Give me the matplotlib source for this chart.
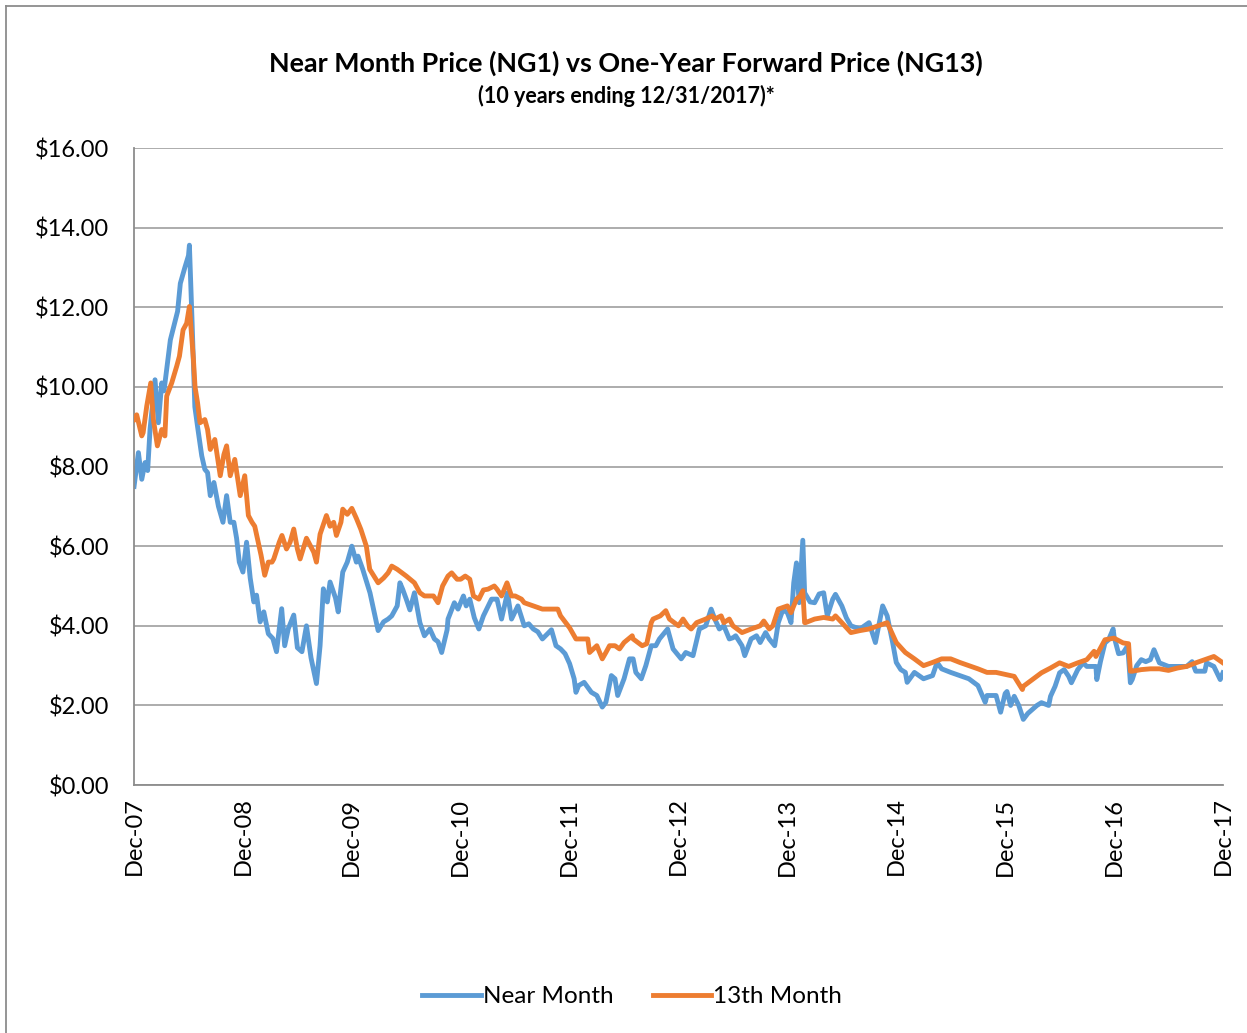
import numpy as np
import matplotlib
matplotlib.use('Agg')
import matplotlib.pyplot as plt
from matplotlib.lines import Line2D

plt.rcParams['font.family'] = ['Lato', 'DejaVu Sans']

# months after Dec-07 (0 = Dec-07, 120 = Dec-17)
nm_month = [0, 0.48, 0.85, 1.21, 1.5, 1.76, 2.31, 2.68, 3.05, 3.3, 4.0, 4.8, 5.1, 5.6, 6.0, 6.1,
            6.4, 6.7, 7.0, 7.46, 7.8, 8.1, 8.4, 8.8, 9.3, 9.8, 10.2, 10.6, 11.0, 11.3, 11.6,
            12.0, 12.4, 12.8, 13.2, 13.5, 13.9, 14.3, 14.8, 15.3, 15.7, 16.27, 16.6, 17.0,
            17.6, 18.0, 18.5, 19.0, 19.5, 20.1, 20.5, 20.86, 21.3, 21.6, 22.2, 22.5, 23.0,
            23.5, 24.0, 24.5, 24.68, 25.2, 26.0, 26.9, 27.5, 28.0, 28.4, 29.0, 29.3, 29.6,
            30.0, 30.4, 30.9, 31.5, 32.0, 32.6, 33.1, 33.5, 33.9, 34.5, 34.6, 35.3, 35.7,
            36.3, 36.6, 37.0, 37.5, 38.0, 38.5, 39.4, 40.0, 40.5, 41.15, 41.6, 42.3, 43.0,
            43.5, 44.0, 44.5, 45.0, 46.0, 46.5, 47.0, 47.5, 48.0, 48.5, 48.7, 49.0, 49.6,
            50.4, 51.0, 51.6, 52.0, 52.6, 53.0, 53.3, 54.0, 54.6, 55.0, 55.3, 55.9, 56.4,
            57.0, 57.5, 57.9, 58.8, 59.0, 59.4, 60.3, 60.8, 61.6, 62.3, 63.0, 63.6, 64.0,
            64.5, 65.0, 65.6, 66.0, 66.3, 67.0, 67.3, 68.0, 68.6, 69.0, 69.6, 70.0, 70.6,
            71.0, 71.5, 72.0, 72.4, 72.7, 73.0, 73.3, 73.7, 73.9, 74.5, 75.0, 75.5, 76.0,
            76.4, 77.0, 77.3, 78.0, 78.5, 79.0, 80.0, 81.0, 81.7, 82.5, 83.0, 83.6, 84.0,
            84.5, 85.0, 85.2, 86.0, 87.0, 88.0, 88.5, 89.0, 90.0, 91.0, 92.0, 93.0, 93.8,
            94.0, 95.0, 95.5, 96.0, 96.2, 96.6, 97.0, 97.5, 98.0, 98.5, 99.0, 99.5, 100.0,
            100.8, 101.0, 101.5, 102.0, 102.5, 103.0, 103.3, 104.0, 104.6, 105.0, 106.0,
            106.1, 106.5, 107.0, 107.4, 107.9, 108.0, 108.5, 109.0, 109.5, 109.8, 110.0,
            110.5, 111.0, 111.5, 112.0, 112.4, 113.0, 114.0, 115.0, 116.0, 116.6, 117.0,
            118.0, 118.2, 119.0, 119.7, 120.0]
nm_price = [7.5, 8.35, 7.68, 8.1, 7.9, 8.93, 10.18, 9.1, 10.1, 9.9, 11.18, 11.9, 12.6, 13.0, 13.3, 13.56,
            11.6, 9.5, 9.0, 8.27, 7.93, 7.85, 7.27, 7.6, 7.0, 6.6, 7.27, 6.6, 6.6, 6.2, 5.6,
            5.35, 6.1, 5.2, 4.6, 4.77, 4.1, 4.35, 3.8, 3.68, 3.35, 4.43, 3.5, 3.93,
            4.27, 3.45, 3.35, 4.0, 3.2, 2.55, 3.5, 4.93, 4.6, 5.1, 4.7, 4.35, 5.35,
            5.6, 6.0, 5.6, 5.75, 5.42, 4.83, 3.88, 4.1, 4.17, 4.25, 4.5, 5.08, 4.92,
            4.67, 4.4, 4.83, 4.08, 3.75, 3.92, 3.67, 3.6, 3.33, 3.9, 4.17, 4.58, 4.42,
            4.75, 4.5, 4.67, 4.2, 3.92, 4.25, 4.67, 4.67, 4.17, 4.83, 4.17, 4.5, 4.0,
            4.05, 3.92, 3.85, 3.67, 3.9, 3.5, 3.42, 3.3, 3.05, 2.67, 2.33, 2.5, 2.58,
            2.33, 2.25, 1.96, 2.08, 2.75, 2.67, 2.25, 2.67, 3.17, 3.17, 2.83, 2.67, 3.0,
            3.5, 3.5, 3.67, 3.92, 3.75, 3.42, 3.17, 3.33, 3.25, 3.92, 4.0, 4.42, 4.17,
            3.92, 4.0, 3.67, 3.7, 3.75, 3.5, 3.25, 3.67, 3.75, 3.58, 3.83, 3.67, 3.5,
            4.08, 4.4, 4.33, 4.08, 5.08, 5.58, 4.58, 6.15, 4.83, 4.6, 4.58, 4.8, 4.83,
            4.25, 4.67, 4.79, 4.5, 4.2, 4.0, 3.92, 4.08, 3.58, 4.5, 4.25, 3.58, 3.08,
            2.9, 2.83, 2.58, 2.83, 2.67, 2.75, 3.08, 2.92, 2.83, 2.75, 2.67, 2.5, 2.08,
            2.25, 2.25, 1.83, 2.3, 2.35, 2.0, 2.23, 2.0, 1.65, 1.8, 1.9, 2.0, 2.07,
            2.0, 2.23, 2.48, 2.82, 2.9, 2.73, 2.57, 2.9, 3.07, 2.98, 2.98,
            2.65, 3.1, 3.57, 3.65, 3.92, 3.73, 3.3, 3.32, 3.5, 2.57, 2.65,
            3.0, 3.15, 3.1, 3.15, 3.4, 3.07, 2.98, 2.98, 2.98, 3.1, 2.86,
            2.86, 3.07, 2.98, 2.65, 2.82]

fw_month = [0, 0.29, 0.85, 1.0, 1.4, 1.84, 2.13, 2.57, 3.05, 3.4, 3.6, 4.15, 4.7, 5.0, 5.4, 5.8,
            6.1, 6.54, 6.72, 7.0, 7.27, 7.8, 8.1, 8.4, 8.9, 9.5, 9.9, 10.2, 10.6, 11.1, 11.7,
            12.2, 12.6, 13.0, 13.3, 14.0, 14.4, 14.8, 15.2, 15.4, 16.0, 16.3, 16.8, 17.2,
            17.6, 18.0, 18.3, 19.0, 19.8, 20.1, 20.5, 21.2, 21.6, 22.0, 22.3, 22.8, 23.0,
            23.5, 24.0, 24.5, 25.0, 25.6, 25.97, 26.9, 27.5, 28.0, 28.4, 29.0, 30.0, 30.9,
            31.5, 32.0, 33.0, 33.5, 34.0, 34.6, 35.0, 35.6, 36.0, 36.5, 37.0, 37.4, 38.0,
            38.5, 39.0, 39.7, 40.0, 40.5, 41.1, 41.6, 42.0, 42.7, 43.0, 44.0, 45.0, 46.0,
            46.7, 47.0, 47.5, 48.0, 48.3, 48.7, 49.0, 50.0, 50.2, 51.0, 51.6, 52.0, 52.4,
            53.0, 53.5, 54.0, 54.9, 55.0, 56.0, 56.5, 57.0, 57.2, 58.0, 58.6, 59.0, 60.0,
            60.5, 61.0, 61.4, 62.0, 63.0, 63.7, 64.0, 64.7, 65.0, 65.6, 66.0, 67.0, 68.0,
            69.0, 69.4, 70.0, 70.4, 71.0, 72.0, 72.4, 73.0, 73.4, 73.7, 73.9, 74.0, 75.0,
            76.0, 77.0, 77.3, 78.0, 79.0, 80.0, 81.0, 82.0, 83.0, 84.0, 85.0, 86.0, 87.0,
            88.0, 89.0, 90.0, 91.0, 92.0, 93.0, 94.0, 95.0, 96.0, 97.0, 97.9, 98.0, 99.0,
            100.0, 101.0, 102.0, 103.0, 104.0, 105.0, 105.8, 106.0, 107.0, 108.0, 109.0,
            109.6, 109.8, 110.0, 111.0, 112.0, 113.0, 114.0, 115.0, 116.0, 117.0, 118.0,
            119.0, 120.0]
fw_price = [9.18, 9.3, 8.77, 8.85, 9.52, 10.1, 9.18, 8.52, 8.93, 8.77, 9.77, 10.1, 10.52, 10.77, 11.43, 11.6,
            12.02, 10.7, 10.0, 9.6, 9.1, 9.18, 8.93, 8.43, 8.68, 7.77, 8.3, 8.52, 7.77, 8.18, 7.27,
            7.77, 6.77, 6.6, 6.5, 5.77, 5.27, 5.6, 5.6, 5.68, 6.1, 6.27, 5.93, 6.1,
            6.43, 5.93, 5.68, 6.2, 5.85, 5.6, 6.3, 6.77, 6.5, 6.6, 6.27, 6.6, 6.93,
            6.8, 6.95, 6.7, 6.42, 6.0, 5.42, 5.08, 5.2, 5.33, 5.5, 5.42, 5.25, 5.08,
            4.83, 4.75, 4.75, 4.58, 5.0, 5.25, 5.33, 5.17, 5.17, 5.25, 5.17, 4.75, 4.67,
            4.9, 4.92, 5.0, 4.92, 4.75, 5.08, 4.75, 4.75, 4.67, 4.58, 4.5, 4.42, 4.42,
            4.42, 4.25, 4.1, 3.95, 3.83, 3.67, 3.67, 3.67, 3.33, 3.5, 3.17, 3.33, 3.5,
            3.5, 3.42, 3.58, 3.75, 3.67, 3.5, 3.55, 4.08, 4.17, 4.25, 4.38, 4.17, 4.0,
            4.17, 4.0, 3.92, 4.08, 4.17, 4.25, 4.17, 4.25, 4.08, 4.17, 4.0, 3.83, 3.92,
            4.0, 4.12, 3.92, 4.0, 4.42, 4.5, 4.33, 4.67, 4.75, 4.88, 4.08, 4.08, 4.17,
            4.21, 4.17, 4.25, 4.08, 3.83, 3.88, 3.92, 4.0, 4.08, 3.58, 3.33, 3.17, 3.0,
            3.08, 3.17, 3.17, 3.08, 3.0, 2.92, 2.83, 2.83, 2.78, 2.73, 2.4, 2.48, 2.65,
            2.82, 2.94, 3.07, 2.98, 3.07, 3.15, 3.36, 3.23, 3.65, 3.69, 3.57,
            3.55, 2.86, 2.86, 2.9, 2.92, 2.92, 2.88, 2.94, 2.98, 3.07, 3.15,
            3.23, 3.07]

tick_months = [0, 12, 24, 36, 48, 60, 72, 84, 96, 108, 120]
tick_labels = ['Dec-07', 'Dec-08', 'Dec-09', 'Dec-10', 'Dec-11', 'Dec-12',
               'Dec-13', 'Dec-14', 'Dec-15', 'Dec-16', 'Dec-17']
y_ticks = np.arange(0, 17, 2)

fig = plt.figure(figsize=(12.47, 10.33), dpi=100)
ax = fig.add_axes([0.1075, 0.240, 0.8732, 0.6167])

ax.plot(nm_month, nm_price, c='#5B9BD5', lw=3.5, label='Near Month', zorder=2)
ax.plot(fw_month, fw_price, c='#ED7D31', lw=3.5, label='13th Month', zorder=3)

ax.set_xlim(0, 120)
ax.set_ylim(0, 16)
ax.set_yticks(y_ticks)
ax.set_yticklabels(['$%.2f' % v for v in y_ticks], fontsize=17)
ax.set_xticks(tick_months)
ax.set_xticklabels(tick_labels, rotation=90, fontsize=17)
ax.grid(axis='y', color='#a6a6a6', lw=1.3)
ax.set_axisbelow(True)
for s in ['top', 'right']:
    ax.spines[s].set_visible(False)
ax.spines['left'].set_color('#8c8c8c')
ax.spines['bottom'].set_color('#8c8c8c')
ax.spines['left'].set_linewidth(1.3)
ax.spines['bottom'].set_linewidth(1.3)
ax.tick_params(axis='y', length=0, pad=18)
ax.tick_params(axis='x', length=0, pad=9)

fig.text(0.502, 0.939, 'Near Month Price (NG1) vs One-Year Forward Price (NG13)',
         ha='center', va='center', fontsize=19.4, fontweight='bold')
fig.text(0.502, 0.907, '(10 years ending 12/31/2017)*',
         ha='center', va='center', fontsize=15.5, fontweight='bold')

handles = [Line2D([], [], c='#5B9BD5', lw=3.5), Line2D([], [], c='#ED7D31', lw=3.5)]
fig.legend(handles, ['Near Month', '13th Month'], loc='center', bbox_to_anchor=(0.507, 0.035),
           ncol=2, frameon=False, fontsize=17.5, handlelength=2.4, columnspacing=1.6,
           handletextpad=0.1)

# outer chart border (left and top edges visible)
fig.add_artist(Line2D([0.005, 0.005], [0, 0.994], color='#8c8c8c', lw=1.3))
fig.add_artist(Line2D([0.005, 1.0], [0.994, 0.994], color='#8c8c8c', lw=1.3))

fig.savefig('out.png', dpi=100)
